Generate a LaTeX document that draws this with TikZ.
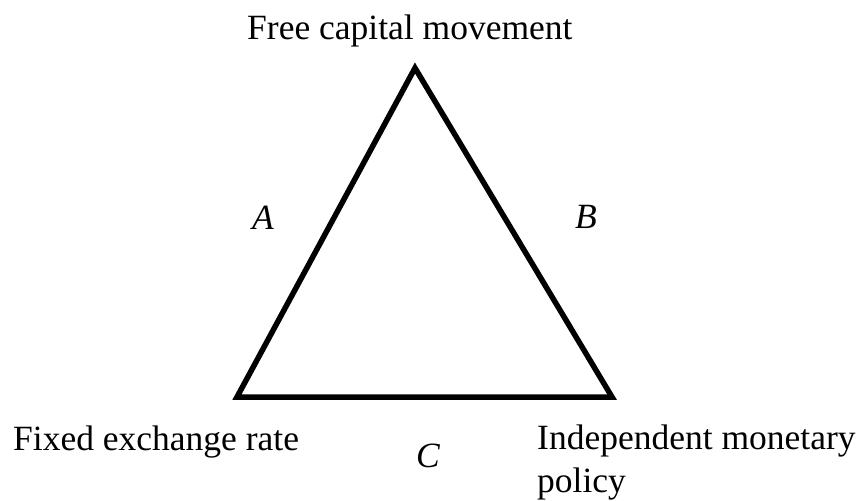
\documentclass[tikz,border=0pt]{standalone}
\usepackage{fontspec}
\setmainfont{Liberation Serif}
\tikzset{
  lbl/.style={inner sep=0pt, font=\fontsize{35.5}{43}\selectfont},
  corner/.style={inner sep=0pt},
  side/.style={line width=5.5pt, line join=miter}
}
\begin{document}
\begin{tikzpicture}[x=1pt,y=-1pt]
\useasboundingbox (0,0) rectangle (858,500);
\coordinate (T) at (415,68);
\coordinate (L) at (237,397);
\coordinate (R) at (612,397);
\draw[side] (T) -- (L) -- (R) -- cycle;
\node[lbl, anchor=base west] (ft) at (247,40) {Free capital movement};
\node[lbl, anchor=base west] (fx) at (13,450) {Fixed exchange rate};
\node[lbl, anchor=base west] (im) at (537,449) {Independent monetary};
\node[lbl, anchor=base west] (po) at (537,492) {policy};
\node[lbl, anchor=base] (a) at (263,229) {\itshape A};
\node[lbl, anchor=base] (b) at (586,228) {\itshape B};
\node[lbl, anchor=base] (c) at (428,467) {\itshape C};
\end{tikzpicture}
\end{document}
